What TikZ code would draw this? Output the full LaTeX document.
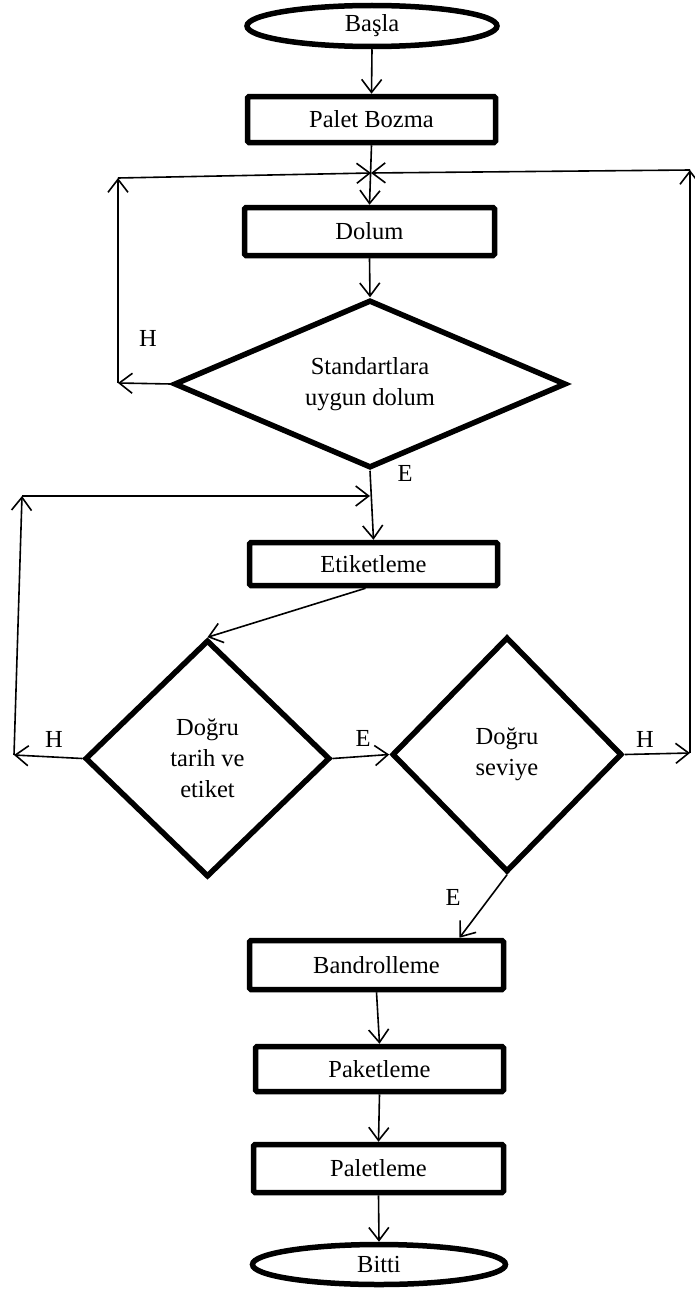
\documentclass[tikz,border=0pt]{standalone}
\usepackage{fontspec}
\setmainfont{Liberation Serif}
\usetikzlibrary{shapes.geometric,arrows.meta}
\begin{document}
\begin{tikzpicture}[x=1pt,y=-1pt,
  txt/.style={font=\fontsize{24.5}{31}\selectfont},
  box/.style={txt,draw,line width=5.5pt,rectangle,rounded corners=1.5pt,inner sep=0pt},
  term/.style={txt,draw,line width=5.5pt,ellipse,inner sep=0pt},
  decision/.style={txt,draw,line width=5.5pt,diamond,inner sep=0pt,align=center},
  conn/.style={line width=1.6pt,-{Straight Barb[length=13pt,width=20pt]}},
  lbl/.style={txt,inner sep=0pt}
]
\useasboundingbox (0,0) rectangle (695,1298);

% nodes
\node[term,minimum width=250pt,minimum height=41pt] (basla) at (372,26) {Başla};
\node[box,minimum width=248pt,minimum height=46pt] (palet) at (371.5,119.5) {Palet Bozma};
\node[box,minimum width=250pt,minimum height=48pt] (dolum) at (369.5,231.5) {Dolum};
\node[decision,shape aspect=2.3,minimum width=392pt,minimum height=168pt] (d1) at (370,384) {Standartlara\\uygun dolum};
\node[box,minimum width=248pt,minimum height=43pt] (etik) at (373.5,564) {Etiketleme};
\node[decision,minimum width=245pt,minimum height=237pt] (d2) at (207.5,758.5) {Doğru\\tarih ve\\etiket};
\node[decision,minimum width=230pt,minimum height=235pt] (d3) at (507,754.5) {Doğru\\seviye};
\node[box,minimum width=254pt,minimum height=49pt] (band) at (376.5,965) {Bandrolleme};
\node[box,minimum width=248pt,minimum height=45pt] (paket) at (379.5,1069) {Paketleme};
\node[box,minimum width=250pt,minimum height=48pt] (palet2) at (378.5,1168.5) {Paletleme};
\node[term,minimum width=253pt,minimum height=40pt] (bitti) at (379,1264.5) {Bitti};

% helper coordinates
\coordinate (j1) at (371,173);
\coordinate (L1) at (118,383);
\coordinate (L2) at (118,178);
\coordinate (R1) at (690,753);
\coordinate (R2) at (690,170);
\coordinate (j2) at (370,496);
\coordinate (M1) at (14,755);
\coordinate (M2) at (22,496);

% labels
\node[lbl] (h1) at (148,338) {H};
\node[lbl] (e1) at (405,473) {E};
\node[lbl] (h2) at (54,739) {H};
\node[lbl] (e2) at (363,738) {E};
\node[lbl] (h3) at (645,739) {H};
\node[lbl] (e3) at (453,897) {E};

% connectors
\draw[conn] (basla.south) -- (palet.north);
\draw[conn] (palet.south) -- (dolum.north);
\draw[conn] (dolum.south) -- (d1.north);
\draw[conn] (d1.west) -- (L1);
\draw[conn] (L1) -- (L2);
\draw[conn] (L2) -- (j1);
\draw[conn] (d1.south) -- (etik.north);
\draw[conn] (M2) -- (j2);
\draw[conn] ([xshift=-8pt]etik.south) -- (d2.north);
\draw[conn] (d2.west) -- (M1);
\draw[conn] (M1) -- (M2);
\draw[conn] (d2.east) -- (d3.west);
\draw[conn] (d3.east) -- (R1);
\draw[conn] (R1) -- (R2);
\draw[conn] (R2) -- (j1);
\draw[conn] (d3.south) -- ([xshift=83pt]band.north);
\draw[conn] (band.south) -- (paket.north);
\draw[conn] (paket.south) -- (palet2.north);
\draw[conn] (palet2.south) -- (bitti.north);
\end{tikzpicture}
\end{document}
